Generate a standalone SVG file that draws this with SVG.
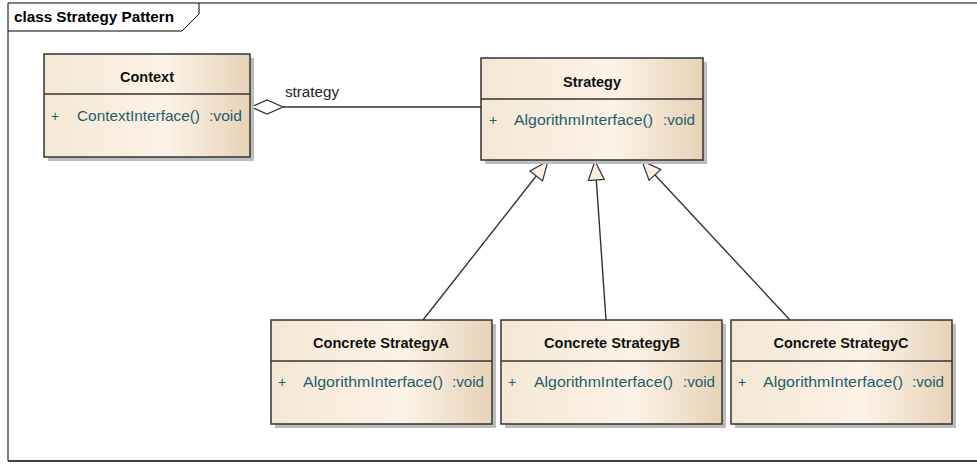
<svg xmlns="http://www.w3.org/2000/svg" width="977" height="464" viewBox="0 0 977 464">
<defs>
<linearGradient id="fill" x1="0" y1="0" x2="1" y2="0">
<stop offset="0" stop-color="#f4e7d4"/>
<stop offset="0.6" stop-color="#fcf2e6"/>
<stop offset="1" stop-color="#e6d3b7"/>
</linearGradient>
<marker id="gen" viewBox="0 0 20 18" refX="20" refY="9" markerWidth="20" markerHeight="18" markerUnits="userSpaceOnUse" orient="auto">
<path d="M20,9 L1,1 L1,17 Z" fill="#fbefdf" stroke="#333" stroke-width="1.2"/>
</marker>
<style>
.shadow{fill:#bdbdbd}
.box{fill:url(#fill);stroke:#333;stroke-width:1.5}
.div{stroke:#333;stroke-width:1.5}
.title{font-family:"Liberation Sans",Arial,sans-serif;font-weight:bold;font-size:14px;fill:#111;text-anchor:middle}
.m{font-family:"Liberation Sans",Arial,sans-serif;font-size:14px;fill:#1f5d6e}
.lbl{font-family:"Liberation Sans",Arial,sans-serif;font-size:14px;fill:#222}
.conn{stroke:#333;stroke-width:1.4;fill:none}
</style>
</defs>
<rect x="0" y="0" width="977" height="464" fill="#fff"/>
<g id="frame">
<path d="M8,461 L8,3 L978,3" fill="none" stroke="#000" stroke-width="1"/>
<line x1="8" y1="461" x2="978" y2="461" stroke="#000" stroke-width="1.5"/>
<path d="M8,31 L182,31 L199,14 L199,3" fill="none" stroke="#000" stroke-width="1"/>
<text x="14" y="22" font-family="Liberation Sans,Arial,sans-serif" font-weight="bold" font-size="15" fill="#000" textLength="160" lengthAdjust="spacingAndGlyphs">class Strategy Pattern</text>
</g>
<g id="connectors">
<line class="conn" x1="283" y1="107" x2="481" y2="107"/>
<path d="M251,107 L267,100 L283,107 L267,114 Z" fill="#fff" stroke="#333" stroke-width="1.3"/>
<text class="lbl" x="285" y="97" textLength="54" lengthAdjust="spacingAndGlyphs">strategy</text>
<line class="conn" x1="423" y1="320" x2="548" y2="161" marker-end="url(#gen)"/>
<line class="conn" x1="606" y1="320" x2="595" y2="161" marker-end="url(#gen)"/>
<line class="conn" x1="790" y1="320" x2="642" y2="161" marker-end="url(#gen)"/>
</g>
<g id="Context">
<rect class="shadow" x="48" y="58" width="206" height="103"/>
<rect class="box" x="44" y="54" width="206" height="103"/>
<line class="div" x1="44" y1="94" x2="250" y2="94"/>
<text class="title" x="147" y="82" textLength="54" lengthAdjust="spacingAndGlyphs">Context</text>
<text class="m" x="51" y="121">+</text>
<text class="m" x="77" y="121" textLength="123" lengthAdjust="spacingAndGlyphs">ContextInterface()</text>
<text class="m" x="209" y="121" textLength="33" lengthAdjust="spacingAndGlyphs">:void</text>
</g>
<g id="Strategy">
<rect class="shadow" x="485" y="62" width="222" height="102"/>
<rect class="box" x="481" y="58" width="222" height="102"/>
<line class="div" x1="481" y1="99" x2="703" y2="99"/>
<text class="title" x="592" y="87" textLength="58" lengthAdjust="spacingAndGlyphs">Strategy</text>
<text class="m" x="489" y="125">+</text>
<text class="m" x="514" y="125" textLength="139" lengthAdjust="spacingAndGlyphs">AlgorithmInterface()</text>
<text class="m" x="663" y="125" textLength="32" lengthAdjust="spacingAndGlyphs">:void</text>
</g>
<g id="ConcreteStrategyA">
<rect class="shadow" x="275" y="324" width="221" height="104"/>
<rect class="box" x="271" y="320" width="221" height="104"/>
<line class="div" x1="271" y1="361" x2="492" y2="361"/>
<text class="title" x="381" y="348" textLength="136" lengthAdjust="spacingAndGlyphs">Concrete StrategyA</text>
<text class="m" x="278" y="387">+</text>
<text class="m" x="303" y="387" textLength="140" lengthAdjust="spacingAndGlyphs">AlgorithmInterface()</text>
<text class="m" x="452" y="387" textLength="32" lengthAdjust="spacingAndGlyphs">:void</text>
</g>
<g id="ConcreteStrategyB">
<rect class="shadow" x="505" y="324" width="221" height="104"/>
<rect class="box" x="501" y="320" width="221" height="104"/>
<line class="div" x1="501" y1="361" x2="722" y2="361"/>
<text class="title" x="612" y="348" textLength="136" lengthAdjust="spacingAndGlyphs">Concrete StrategyB</text>
<text class="m" x="508" y="387">+</text>
<text class="m" x="534" y="387" textLength="139" lengthAdjust="spacingAndGlyphs">AlgorithmInterface()</text>
<text class="m" x="683" y="387" textLength="32" lengthAdjust="spacingAndGlyphs">:void</text>
</g>
<g id="ConcreteStrategyC">
<rect class="shadow" x="735" y="324" width="221" height="104"/>
<rect class="box" x="731" y="320" width="221" height="104"/>
<line class="div" x1="731" y1="361" x2="952" y2="361"/>
<text class="title" x="841" y="348" textLength="135" lengthAdjust="spacingAndGlyphs">Concrete StrategyC</text>
<text class="m" x="738" y="387">+</text>
<text class="m" x="763" y="387" textLength="140" lengthAdjust="spacingAndGlyphs">AlgorithmInterface()</text>
<text class="m" x="912" y="387" textLength="32" lengthAdjust="spacingAndGlyphs">:void</text>
</g>
</svg>
